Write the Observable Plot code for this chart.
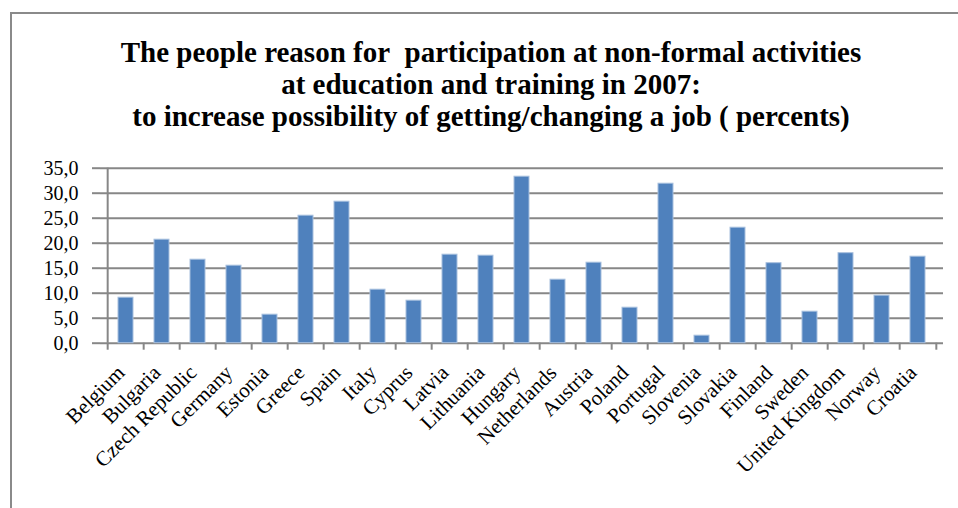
<!DOCTYPE html>
<html>
<head>
<meta charset="utf-8">
<script src="https://cdn.jsdelivr.net/npm/d3@7"></script>
<script src="https://cdn.jsdelivr.net/npm/@observablehq/plot@0.6"></script>
<style>
  html, body { margin: 0; padding: 0; background: #fff; }
  body { width: 958px; height: 508px; overflow: hidden; position: relative; font-family: "Liberation Serif", "Times New Roman", serif; }
  #frame { position: absolute; left: 10px; top: 12px; width: 1000px; height: 700px; border: 2px solid #8a8a8a; box-sizing: border-box; }
  #title { position: absolute; left: 10px; top: 0; width: 962px; padding-top: 36px; text-align: center; font-weight: bold; font-size: 29px; line-height: 32px; color: #000; font-family: "Liberation Serif", "Times New Roman", serif; }
  #chart { position: absolute; left: 0; top: 135px; }
</style>
</head>
<body>
<div id="frame"></div>
<div id="title">The people reason for&nbsp; participation at non-formal activities<br>at education and training in 2007:<br>to increase possibility of getting/changing a job ( percents)</div>
<div id="chart"></div>
<script>
const countries = ["Belgium","Bulgaria","Czech Republic","Germany","Estonia","Greece","Spain","Italy","Cyprus","Latvia","Lithuania","Hungary","Netherlands","Austria","Poland","Portugal","Slovenia","Slovakia","Finland","Sweden","United Kingdom","Norway","Croatia"];
const values = [9.1,20.7,16.7,15.5,5.7,25.5,28.3,10.7,8.5,17.7,17.5,33.3,12.7,16.1,7.1,31.9,1.5,23.1,16.0,6.3,18.0,9.5,17.3];
const yTicks = [0,5,10,15,20,25,30,35];

const data = countries.map((c, i) => ({country: c, value: values[i]}));

const W = 958, H = 373;
const mL = 100, mR = 15, mT = 32.7, mB = 165.3;
const step = (W - mL - mR) / countries.length;
const grid = "#878787";
const serif = "'Liberation Serif', 'Times New Roman', serif";

const chart = Plot.plot({
  width: W, height: H,
  marginLeft: mL, marginRight: mR, marginTop: mT, marginBottom: mB,
  style: {fontFamily: serif, fontSize: "20px", color: "#000", background: "transparent", overflow: "visible"},
  x: {type: "band", domain: countries, paddingInner: 0.58, paddingOuter: 0.29, align: 0.5, label: null},
  y: {domain: [0, 35], label: null},
  marks: [
    Plot.ruleY(yTicks, {stroke: grid, strokeWidth: 2}),
    Plot.barY(data, {x: "country", y: "value", fill: "#4F81BD", stroke: "#A7BFDE", strokeWidth: 1}),
    Plot.ruleX([countries[0]], {dx: -step / 2, y1: 0, y2: 35, stroke: grid, strokeWidth: 2}),
    Plot.axisY({ticks: yTicks, tickSize: 8, tickPadding: 14, tickFormat: d => d.toFixed(1).replace(".", ","), stroke: grid, strokeWidth: 2, fill: "#000", fontSize: 20, fontFamily: serif, label: null}),
    Plot.axisX({tickSize: 7, fill: "none", dx: -step / 2, stroke: grid, strokeWidth: 2, label: null}),
    Plot.axisX({ticks: [countries[countries.length - 1]], tickSize: 7, fill: "none", dx: step / 2, stroke: grid, strokeWidth: 2, label: null}),
    Plot.axisX({tickRotate: -45, tickSize: 0, tickPadding: 26, dx: -5, fill: "#000", fontSize: 21, fontFamily: serif, label: null})
  ]
});
document.getElementById("chart").appendChild(chart);
</script>
</body>
</html>
